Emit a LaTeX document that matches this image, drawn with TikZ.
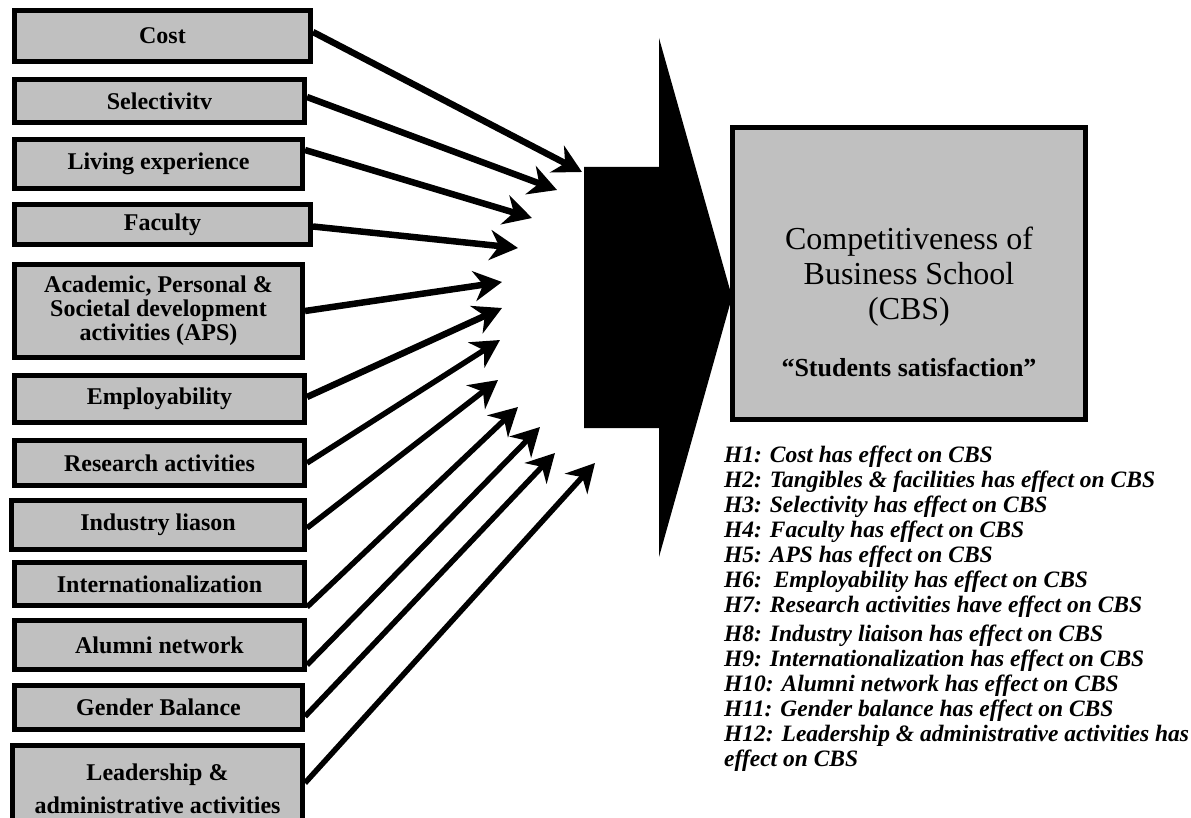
\documentclass[tikz,border=0pt]{standalone}
\usepackage{fontspec}
\setmainfont{Liberation Serif}
\usetikzlibrary{arrows.meta}
\definecolor{boxgray}{RGB}{192,192,192}

\begin{document}
\begin{tikzpicture}[x=1pt, y=-1pt,
    factor/.style={draw, line width=5pt, fill=boxgray, align=center, inner sep=0pt,
      font=\bfseries\fontsize{24}{24}\selectfont},
    link/.style={line width=6.5pt, -{Stealth[length=28pt, width=30pt, inset=9pt]}},
    hypo/.style={align=left, inner sep=0pt, font=\bfseries\itshape\fontsize{23.5}{25}\selectfont}]
  \useasboundingbox (0,0) rectangle (1191,818);
  \clip (0,0) rectangle (1191,818);

  % Factors
  \node[factor, minimum width=296pt, minimum height=51pt] (cost) at (162.5,36) {Cost};
  \node[factor, minimum width=290pt, minimum height=43pt] (sel) at (159.5,101) {Selectivitv};
  \node[factor, minimum width=288pt, minimum height=49pt] (liv) at (158.5,164) {Living experience};
  \node[factor, minimum width=296pt, minimum height=40pt] (fac) at (162.5,224.5) {Faculty};
  \node[factor, minimum width=288pt, minimum height=93pt] (aps) at (158.5,311)
    {Academic, Personal \&\\Societal development\\activities (APS)};
  \node[factor, minimum width=290pt, minimum height=47pt] (emp) at (159.5,399) {Employability};
  \node[factor, minimum width=290pt, minimum height=45pt] (res) at (159.5,463) {Research activities};
  \node[factor, minimum width=293pt, minimum height=49pt] (ind) at (158,525) {Industry liason};
  \node[factor, minimum width=290pt, minimum height=43pt] (intl) at (159.5,584) {Internationalization};
  \node[factor, minimum width=290pt, minimum height=49pt] (alu) at (159.5,645) {Alumni network};
  \node[factor, minimum width=288pt, minimum height=44pt] (gen) at (158.5,707.5) {Gender Balance};
  \node[factor, minimum width=290pt, minimum height=87pt] (lead) at (157.5,789)
    {Leadership \&\\[9pt]administrative activities};

  % Tips
  \coordinate (t1) at (582,172);
  \coordinate (t2) at (557,190);
  \coordinate (t3) at (532,218);
  \coordinate (t4) at (518,248);
  \coordinate (t5) at (502,282);
  \coordinate (t6) at (502,308);
  \coordinate (t7) at (500,340);
  \coordinate (t8) at (498,380);
  \coordinate (t9) at (518,407);
  \coordinate (t10) at (540,427);
  \coordinate (t11) at (555,453);
  \coordinate (t12) at (595,463);

  % Links
  \draw[link] ([yshift=4pt]cost.east) -- (t1);
  \draw[link] ([yshift=4pt]sel.east) -- (t2);
  \draw[link] ([yshift=14pt]liv.east) -- (t3);
  \draw[link] ([yshift=-2pt]fac.east) -- (t4);
  \draw[link] (aps.east) -- (t5);
  \draw[link] ([yshift=2pt]emp.east) -- (t6);
  \draw[link, line width=5.5pt] (res.east) -- (t7);
  \draw[link, line width=5.5pt] ([yshift=-3pt]ind.east) -- (t8);
  \draw[link, line width=5.5pt] ([yshift=1pt]intl.south east) -- (t9);
  \draw[link, line width=5.5pt] ([yshift=-20pt]alu.east) -- (t10);
  \draw[link, line width=5.5pt] ([yshift=-9pt]gen.east) -- (t11);
  \draw[link, line width=5.5pt] ([yshift=6pt]lead.east) -- (t12);

  % Block arrow
  \fill (584,167) -- (659,167) -- (659,38) -- (732,297) -- (659,557)
    -- (659,428) -- (584,428) -- cycle;

  % CBS
  \node[draw, line width=5pt, fill=boxgray, minimum width=353pt, minimum height=292pt,
    inner sep=0pt] (cbs) at (909,273.5) {};
  \node[align=center, inner sep=0pt, anchor=north, font=\fontsize{32}{35}\selectfont]
    (cbstext) at (909,227) {Competitiveness of\\Business School\\(CBS)\\[22pt]%
    {\bfseries\fontsize{26}{30}\selectfont “Students satisfaction”}};

  % Hypotheses
  \node[hypo, anchor=north west] (hyp) at (724,446) {%
    H1: Cost has effect on CBS\\
    H2: Tangibles \& facilities has effect on CBS\\
    H3: Selectivity has effect on CBS\\
    H4: Faculty has effect on CBS\\
    H5: APS has effect on CBS\\
    H6:\ \ Employability has effect on CBS\\
    H7: Research activities have effect on CBS\\[4pt]
    H8: Industry liaison has effect on CBS\\
    H9: Internationalization has effect on CBS\\
    H10: Alumni network has effect on CBS\\
    H11: Gender balance has effect on CBS\\
    H12: Leadership \& administrative activities has\\
    effect on CBS};
\end{tikzpicture}
\end{document}
